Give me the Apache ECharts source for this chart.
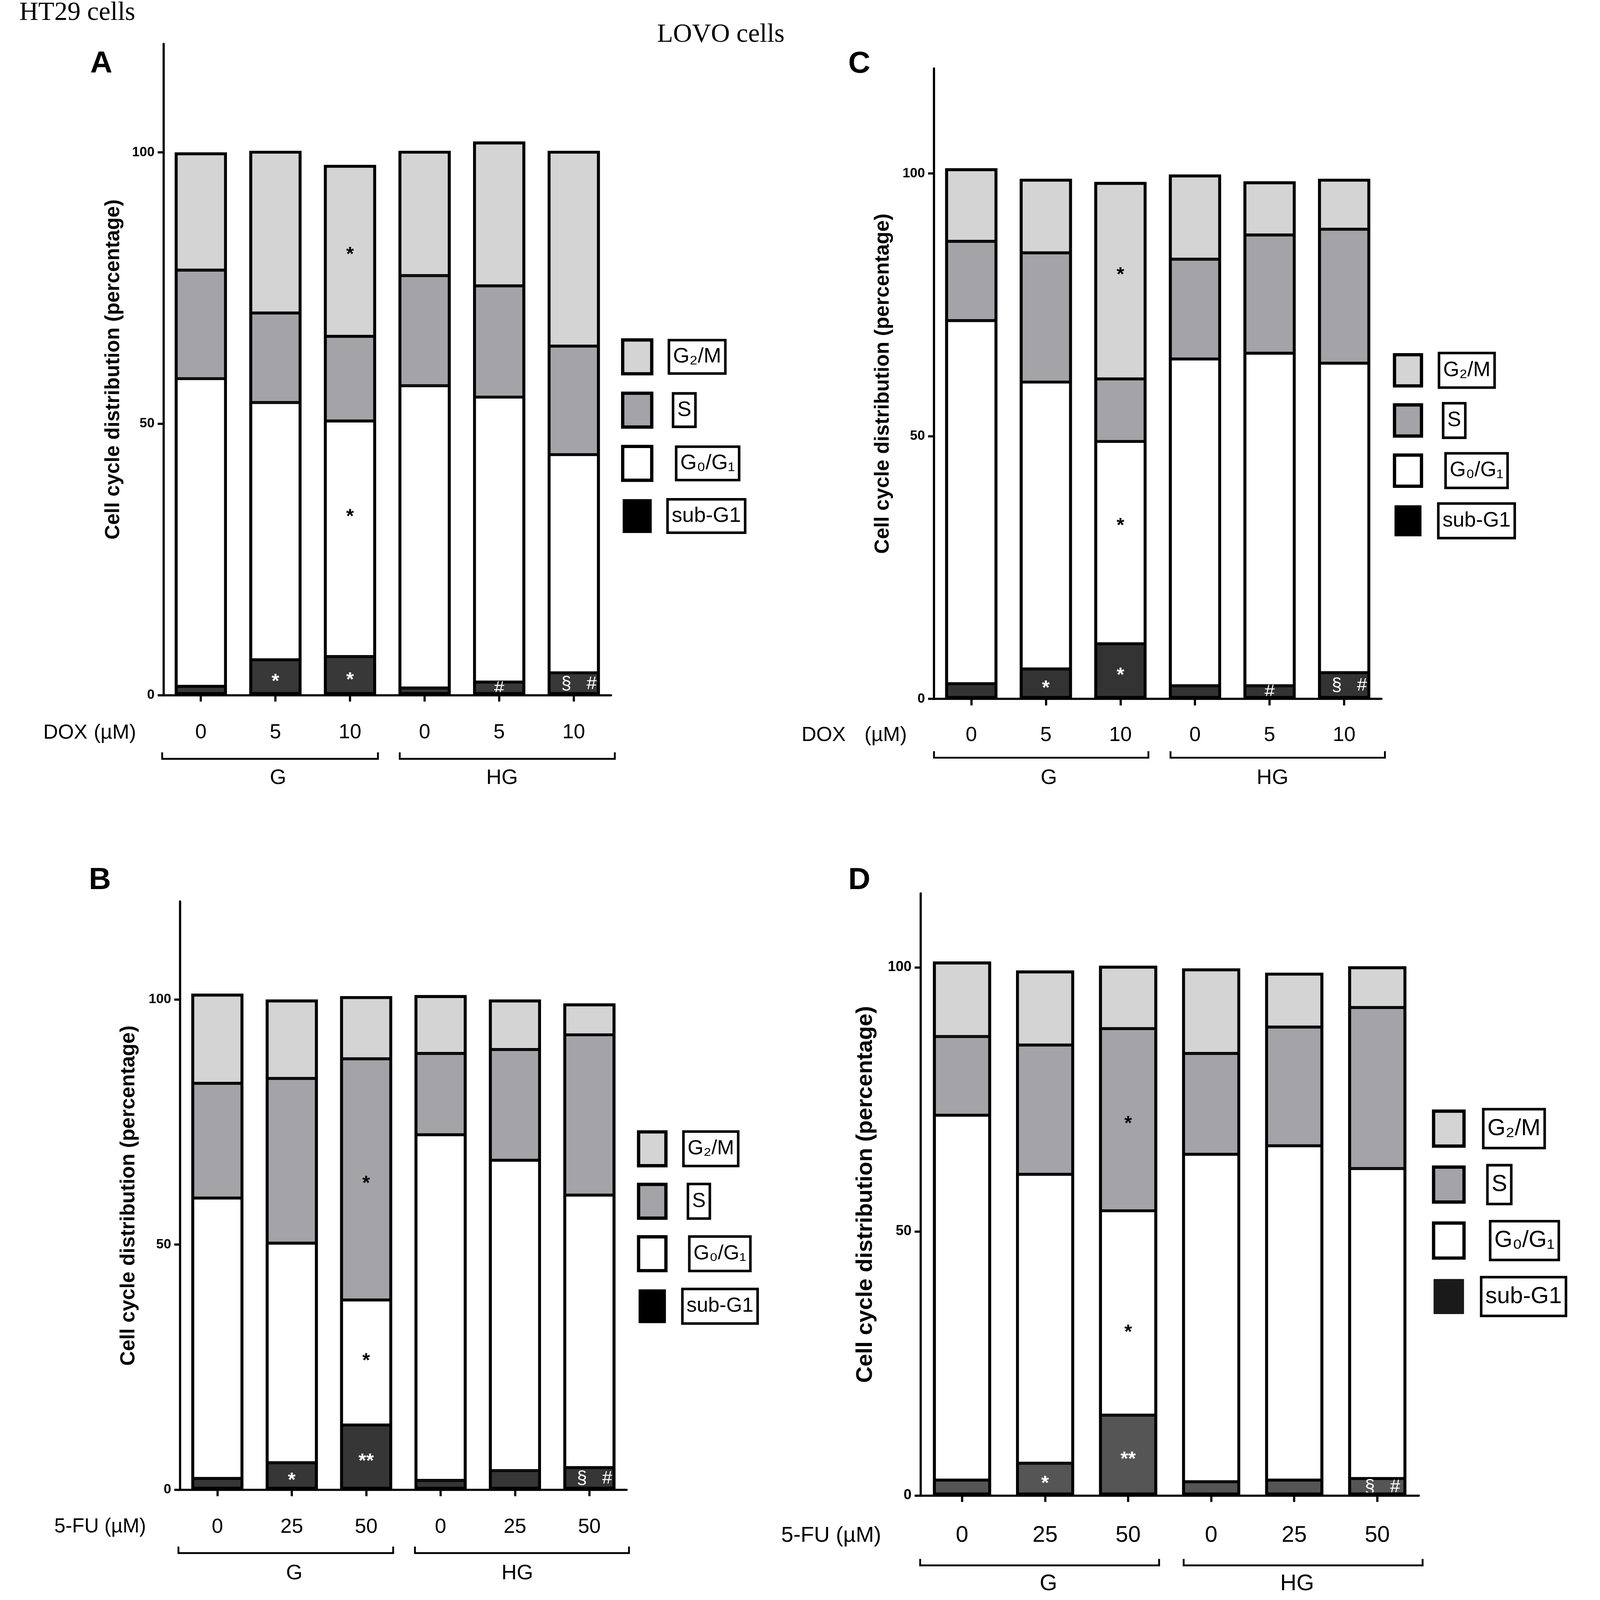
<!DOCTYPE html>
<html><head><meta charset="utf-8">
<script src="https://cdn.jsdelivr.net/npm/echarts@6/dist/echarts.min.js"></script>
<style>html,body{margin:0;padding:0;background:#fff;overflow:hidden}#c{width:100vw;height:100vh}</style>
</head><body><div id="c"></div>
<script>
// ---------- DATA ----------
const phaseNames = ['sub-G1', 'G₀/G₁', 'S', 'G₂/M']; // stacking order, bottom -> top
const legendOrder = ['G₂/M', 'S', 'G₀/G₁', 'sub-G1'];
const doxCategories = ['0', '5', '10', '0', '5', '10'];
const fuCategories = ['0', '25', '50', '0', '25', '50'];
const groupNames = ['G', 'HG'];
const yTickValues = [0, 50, 100];
const yAxisTitle = 'Cell cycle distribution (percentage)';

// Panel A: HT29 cells, DOX
const A_subG1 = [1.6, 6.5, 7.1, 1.3, 2.4, 4.1];
const A_G0G1  = [56.7, 47.4, 43.4, 55.7, 52.5, 40.2];
const A_S     = [20.0, 16.5, 15.6, 20.3, 20.5, 20.0];
const A_G2M   = [21.7, 29.9, 31.6, 23.0, 26.6, 36.0];
const A_mark_subG1 = ['', '*', '*', '', '#', '§   #'];
const A_mark_G0G1  = ['', '', '*', '', '', ''];
const A_mark_S     = ['', '', '', '', '', ''];
const A_mark_G2M   = ['', '', '*', '', '', ''];

// Panel B: HT29 cells, 5-FU
const B_subG1 = [2.3, 5.5, 13.2, 1.9, 3.9, 4.5];
const B_G0G1  = [57.2, 44.8, 25.5, 70.5, 63.3, 55.6];
const B_S     = [23.4, 33.6, 49.2, 16.6, 22.6, 32.7];
const B_G2M   = [18.3, 16.1, 12.8, 11.9, 10.2, 6.4];
const B_mark_subG1 = ['', '*', '**', '', '', '§   #'];
const B_mark_G0G1  = ['', '', '*', '', '', ''];
const B_mark_S     = ['', '', '*', '', '', ''];
const B_mark_G2M   = ['', '', '', '', '', ''];

// Panel C: LOVO cells, DOX
const C_subG1 = [2.9, 5.7, 10.5, 2.5, 2.5, 5.0];
const C_G0G1  = [69.1, 54.6, 38.5, 62.2, 63.3, 58.9];
const C_S     = [15.1, 24.6, 11.9, 19.0, 22.5, 25.5];
const C_G2M   = [13.9, 14.1, 37.5, 16.1, 10.2, 9.6];
const C_mark_subG1 = ['', '*', '*', '', '#', '§   #'];
const C_mark_G0G1  = ['', '', '*', '', '', ''];
const C_mark_S     = ['', '', '', '', '', ''];
const C_mark_G2M   = ['', '', '*', '', '', ''];

// Panel D: LOVO cells, 5-FU
const D_subG1 = [2.9, 6.1, 15.2, 2.6, 2.9, 3.2];
const D_G0G1  = [69.1, 54.7, 38.7, 62.0, 63.3, 58.7];
const D_S     = [14.9, 24.5, 34.5, 19.1, 22.5, 30.5];
const D_G2M   = [14.2, 14.1, 11.9, 16.1, 10.3, 7.8];
const D_mark_subG1 = ['', '*', '**', '', '', '§   #'];
const D_mark_G0G1  = ['', '', '*', '', '', ''];
const D_mark_S     = ['', '', '*', '', '', ''];
const D_mark_G2M   = ['', '', '', '', '', ''];

// ---------- STYLE / LAYOUT (reference pixel space 4627 x 4162, scaled to the viewport) ----------
const W = window.innerWidth || 4627, H = window.innerHeight || 4162;
const sx = W / 4627, sy = H / 4162, sf = Math.sqrt(sx * sy);
const px = v => v * sx, py = v => v * sy, pf = v => v * sf;

const SANS = '"Liberation Sans", Arial, Helvetica, sans-serif';
const SERIF = '"Liberation Serif", "Times New Roman", serif';
const phaseColors = {'G₂/M': '#d4d4d4', 'S': '#a3a3a8', 'G₀/G₁': '#ffffff'};

const panels = [
  {id: 'A', cats: doxCategories, vals: [A_subG1, A_G0G1, A_S, A_G2M], marks: [A_mark_subG1, A_mark_G0G1, A_mark_S, A_mark_G2M],
   grid: {l: 473, t: 114, w: 1294, h: 1694}, max: 120, subColor: '#383838', legendSub: '#000000',
   nameGap: 115, nameSize: 56, catSize: 56, catMargin: 71, tickSize: 37, markShift: {'1,2': -68},
   legend: {l: 1796, t: 880, iw: 84, ih: 88, box: 90, gap: 42, font: 58, gaps: [44, 56, 65, 40]}},
  {id: 'B', cats: fuCategories, vals: [B_subG1, B_G0G1, B_S, B_G2M], marks: [B_mark_subG1, B_mark_G0G1, B_mark_S, B_mark_G2M],
   grid: {l: 521, t: 2345, w: 1291, h: 1530}, max: 120, subColor: '#363636', legendSub: '#000000',
   nameGap: 119, nameSize: 56, catSize: 56, catMargin: 71, tickSize: 37, markShift: {'1,2': -15},
   legend: {l: 1842, t: 2940, iw: 79, ih: 88, box: 93, gap: 40, font: 56, gaps: [45, 58, 62, 42]}},
  {id: 'C', cats: doxCategories, vals: [C_subG1, C_G0G1, C_S, C_G2M], marks: [C_mark_subG1, C_mark_G0G1, C_mark_S, C_mark_G2M],
   grid: {l: 2701, t: 178, w: 1294, h: 1640}, max: 120, subColor: '#333333', legendSub: '#000000',
   nameGap: 118, nameSize: 56, catSize: 56, catMargin: 68, tickSize: 37, markShift: {'1,2': -55, '3,2': -25},
   legend: {l: 4028, t: 915, iw: 78, ih: 81, box: 93, gap: 34, font: 57, gaps: [45, 57, 64, 43]}},
  {id: 'D', cats: fuCategories, vals: [D_subG1, D_G0G1, D_S, D_G2M], marks: [D_mark_subG1, D_mark_G0G1, D_mark_S, D_mark_G2M],
   grid: {l: 2662, t: 2324, w: 1441, h: 1566}, max: 114, subColor: '#555555', legendSub: '#1a1a1a',
   nameGap: 126, nameSize: 62, catSize: 62, catMargin: 75, tickSize: 39, markShift: {'1,2': 40},
   legend: {l: 4141, t: 2882, iw: 88, ih: 91, box: 104, gap: 38, font: 64, gaps: [50, 62, 70, 44]}}
];

const gapKey = {'G₂/M': 'g0', 'S': 'g1', 'G₀/G₁': 'g2', 'sub-G1': 'g3'};

const grids = [], xAxes = [], yAxes = [], series = [], legends = [];
panels.forEach((p, idx) => {
  grids.push({left: px(p.grid.l), top: py(p.grid.t), width: px(p.grid.w), height: py(p.grid.h), containLabel: false});
  xAxes.push({
    type: 'category', gridIndex: idx, data: p.cats,
    axisLine: {show: true, onZero: false, lineStyle: {color: '#000', width: pf(6)}},
    axisTick: {show: true, alignWithLabel: true, length: py(17), lineStyle: {color: '#000', width: pf(6)}},
    axisLabel: {fontSize: pf(p.catSize), color: '#000', fontFamily: SANS, margin: py(p.catMargin)}
  });
  yAxes.push({
    type: 'value', gridIndex: idx, min: 0, max: p.max, interval: 50,
    axisLine: {show: true, lineStyle: {color: '#000', width: pf(6)}},
    axisTick: {show: true, length: px(17), lineStyle: {color: '#000', width: pf(6)}, customValues: yTickValues},
    axisLabel: {customValues: yTickValues, fontSize: pf(p.tickSize), fontWeight: 'bold', color: '#000', fontFamily: SANS, margin: px(26)},
    splitLine: {show: false},
    name: yAxisTitle, nameLocation: 'middle', nameGap: px(p.nameGap),
    nameTextStyle: {fontSize: pf(p.nameSize), fontWeight: 'bold', color: '#000', fontFamily: SANS}
  });
  const colors = [p.subColor, phaseColors['G₀/G₁'], phaseColors['S'], phaseColors['G₂/M']];
  const labelColors = ['#ffffff', '#000000', '#000000', '#000000'];
  phaseNames.forEach((n, k) => {
    series.push({
      type: 'bar', name: n, xAxisIndex: idx, yAxisIndex: idx, stack: 'stack' + p.id,
      barWidth: '70%', barGap: '-100%',
      itemStyle: {color: colors[k], borderColor: '#000', borderWidth: pf(4)},
      label: {show: false, position: 'inside', color: labelColors[k], fontSize: pf(50), fontFamily: SANS},
      emphasis: {disabled: true},
      data: p.vals[k].map((v, i) => {
        const m = p.marks[k][i];
        if (!m) return v;
        const star = m.indexOf('*') >= 0;
        const dy = (p.markShift[k + ',' + i] || 0) + (star ? 12 : 0);
        const dx = m.indexOf('§') >= 0 ? 15 : 0;
        return {value: v, label: {show: true, formatter: m, fontWeight: star ? 'bold' : 'normal',
                fontSize: pf(star ? 54 : 50), offset: [px(dx), py(dy)]}};
      })
    });
  });
  // bar outline: total height of each stacked column, drawn as a border only
  const totals = p.vals[0].map((_, i) => p.vals.reduce((s, arr) => s + arr[i], 0));
  series.push({
    type: 'bar', name: 'outline ' + p.id, xAxisIndex: idx, yAxisIndex: idx,
    barWidth: '70%', barGap: '-100%', silent: true, z: 3,
    itemStyle: {color: 'rgba(0,0,0,0)', borderColor: '#000', borderWidth: pf(8)},
    label: {show: false}, emphasis: {disabled: true}, tooltip: {show: false},
    data: totals
  });
  const L = p.legend;
  const padV = Math.max(0, (L.box - L.font) / 2);
  const rich = {
    b: {fontSize: pf(L.font), fontFamily: SANS, color: '#000', borderColor: '#000', borderWidth: pf(7),
        padding: [py(padV), px(12), py(padV), px(12)]}
  };
  L.gaps.forEach((g, j) => { rich['g' + j] = {width: px(g), fontSize: pf(L.font)}; });
  legends.push({
    orient: 'vertical', left: px(L.l), top: py(L.t), padding: 0, itemGap: py(L.gap),
    itemWidth: px(L.iw), itemHeight: py(L.ih), selectedMode: false, icon: 'rect',
    data: legendOrder.map(n => n === 'sub-G1'
      ? {name: n, itemStyle: {color: p.legendSub, borderWidth: 0}}
      : {name: n, itemStyle: {color: phaseColors[n], borderColor: '#000', borderWidth: pf(9)}}),
    formatter: name => '{' + gapKey[name] + '|}{b|' + name + '}',
    textStyle: {fontSize: pf(L.font), fontFamily: SANS, color: '#000', rich: rich}
  });
});

// ---------- ANNOTATION TEXT & BRACKETS ----------
function txt(x, y, text, size, family, weight, align) {
  const font = (weight ? weight + ' ' : '') + pf(size) + 'px ' + family;
  return {type: 'text', x: px(x), y: py(y), silent: true,
    style: {text: text, font: font, fill: '#000', align: align || 'left', verticalAlign: 'middle',
            textAlign: align || 'left', textVerticalAlign: 'middle'}};
}
function bracket(x1, x2, y) {
  return {type: 'polyline', silent: true,
    shape: {points: [[px(x1), py(y - 17)], [px(x1), py(y)], [px(x2), py(y)], [px(x2), py(y - 17)]]},
    style: {stroke: '#000', lineWidth: pf(5), fill: null}};
}
const graphics = [
  txt(56, 34, 'HT29 cells', 72, SERIF),
  txt(1900, 91, 'LOVO cells', 72, SERIF),
  txt(293, 167, 'A', 84, SANS, 'bold', 'center'),
  txt(289, 2291, 'B', 84, SANS, 'bold', 'center'),
  txt(2485, 167, 'C', 84, SANS, 'bold', 'center'),
  txt(2485, 2291, 'D', 84, SANS, 'bold', 'center'),
  txt(125, 1907, 'DOX', 56, SANS),
  txt(271, 1907, '(µM)', 56, SANS),
  txt(2318, 1913, 'DOX', 56, SANS),
  txt(2500, 1913, '(µM)', 56, SANS),
  txt(157, 3972, '5-FU (µM)', 55, SANS),
  txt(2259, 3995, '5-FU (µM)', 60, SANS),
  bracket(469, 1093, 1974), bracket(1156, 1778, 1974),
  bracket(2701, 3321, 1971), bracket(3385, 4005, 1971),
  bracket(516, 1137, 4040), bracket(1200, 1819, 4040),
  bracket(2661, 3352, 4072), bracket(3423, 4114, 4072),
  txt(804, 2024, groupNames[0], 58, SANS, '', 'center'),
  txt(1452, 2024, groupNames[1], 58, SANS, '', 'center'),
  txt(3033, 2024, groupNames[0], 58, SANS, '', 'center'),
  txt(3680, 2024, groupNames[1], 58, SANS, '', 'center'),
  txt(851, 4093, groupNames[0], 58, SANS, '', 'center'),
  txt(1496, 4093, groupNames[1], 58, SANS, '', 'center'),
  txt(3032, 4120, groupNames[0], 62, SANS, '', 'center'),
  txt(3751, 4120, groupNames[1], 62, SANS, '', 'center')
];

const chart = echarts.init(document.getElementById('c'), null, {renderer: 'canvas', width: W, height: H});
chart.setOption({
  animation: false,
  backgroundColor: '#ffffff',
  grid: grids, xAxis: xAxes, yAxis: yAxes, series: series, legend: legends,
  graphic: {elements: graphics}
});
</script>
</body></html>
